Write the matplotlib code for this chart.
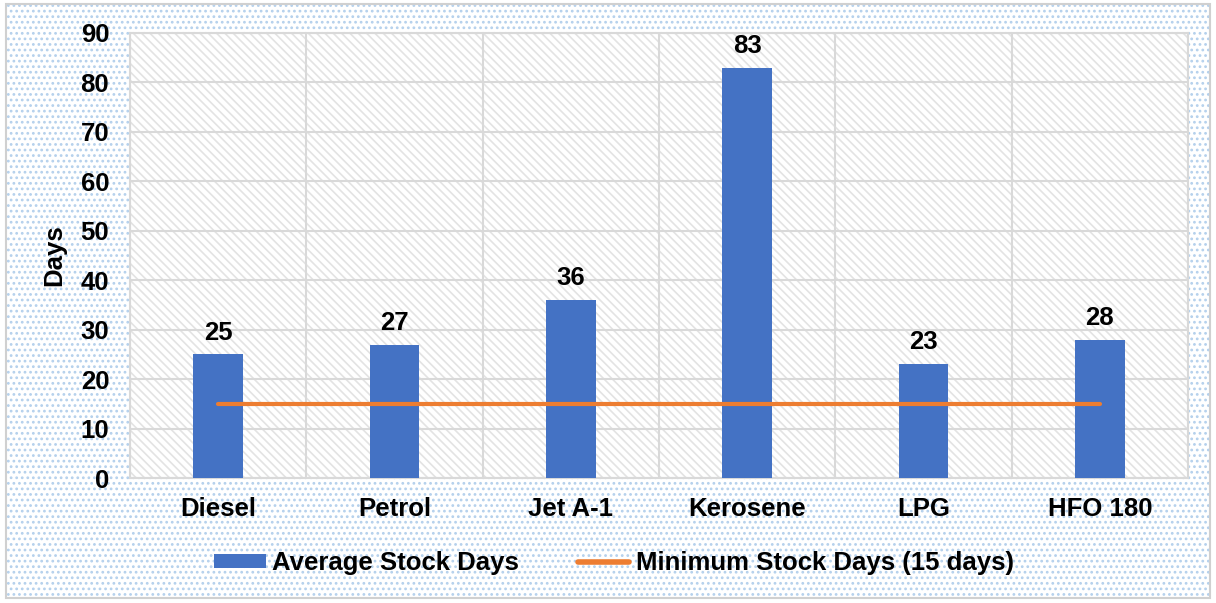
import matplotlib
matplotlib.use("Agg")
import matplotlib.pyplot as plt
from matplotlib.patches import Rectangle
import numpy as np

categories = ["Diesel", "Petrol", "Jet A-1", "Kerosene", "LPG", "HFO 180"]
avg_stock_days = [25, 27, 36, 83, 23, 28]
min_stock_days = [15, 15, 15, 15, 15, 15]
y_ticks = [0, 10, 20, 30, 40, 50, 60, 70, 80, 90]

plt.rcParams['font.family'] = ['Liberation Sans', 'DejaVu Sans']
plt.rcParams['hatch.linewidth'] = 1.2

FS = 18.5

fig = plt.figure(figsize=(12.16, 6.03), dpi=100)
fig.patch.set_facecolor('white')

# figure background dotted pattern
bg = Rectangle((0.005, 0.008), 0.99, 0.985, transform=fig.transFigure,
               facecolor='white', edgecolor='#b4d0ec', hatch='...', lw=0, zorder=-5)
fig.patches.append(bg)
border = Rectangle((0.005, 0.008), 0.99, 0.985, transform=fig.transFigure,
                   facecolor='none', edgecolor='#d0d0d0', lw=1.5, zorder=-4)
fig.patches.append(border)

ax = fig.add_axes([130/1216, 1-478/603, (1188-130)/1216, (478-33)/603])
ax.set_facecolor('white')
ax.add_patch(Rectangle((0, 0), 1, 1, transform=ax.transAxes, facecolor='white',
                       edgecolor='#e3e3e3', hatch='\\\\\\\\', lw=0, zorder=0))

x = np.arange(len(categories))
bars = ax.bar(x, avg_stock_days, width=0.28, color='#4472c4', zorder=3,
              label='Average Stock Days')
line, = ax.plot(x, min_stock_days, color='#ed7d31', lw=3, solid_capstyle='round', zorder=4,
                label='Minimum Stock Days (15 days)')

for xi, v in zip(x, avg_stock_days):
    ax.text(xi, v + 2, str(v), ha='center', va='bottom', fontsize=FS, fontweight='bold')

ax.set_xlim(-0.5, len(categories) - 0.5)
ax.set_ylim(0, 90)
ax.set_yticks(y_ticks)
ax.set_yticklabels([str(t) for t in y_ticks], fontsize=FS, fontweight='bold')
ax.set_xticks(x)
ax.set_xticklabels(categories, fontsize=FS, fontweight='bold')
ax.set_xticks(np.arange(-0.5, len(categories)), minor=True)
ax.tick_params(axis='both', which='both', length=0)
ax.tick_params(axis='x', pad=14)
ax.tick_params(axis='y', pad=15)
ax.grid(axis='y', which='major', color='#d9d9d9', lw=1.5, zorder=1)
ax.grid(axis='x', which='minor', color='#d9d9d9', lw=1.5, zorder=1)
ax.grid(axis='x', which='major', visible=False)
for s in ax.spines.values():
    s.set_color('#d9d9d9')
    s.set_linewidth(1.5)
ax.set_ylabel('Days', fontsize=FS, fontweight='bold', labelpad=10)

leg = fig.legend(handles=[bars, line], loc='center', bbox_to_anchor=(0.505, 1-563/603), ncol=2,
                 frameon=False, prop={'size': FS, 'weight': 'bold'}, handlelength=2.0,
                 handleheight=0.5, columnspacing=2.3, handletextpad=0.25)
leg.get_lines()[0].set_linewidth(4) if leg.get_lines() else None

fig.savefig('out.png', dpi=100)
